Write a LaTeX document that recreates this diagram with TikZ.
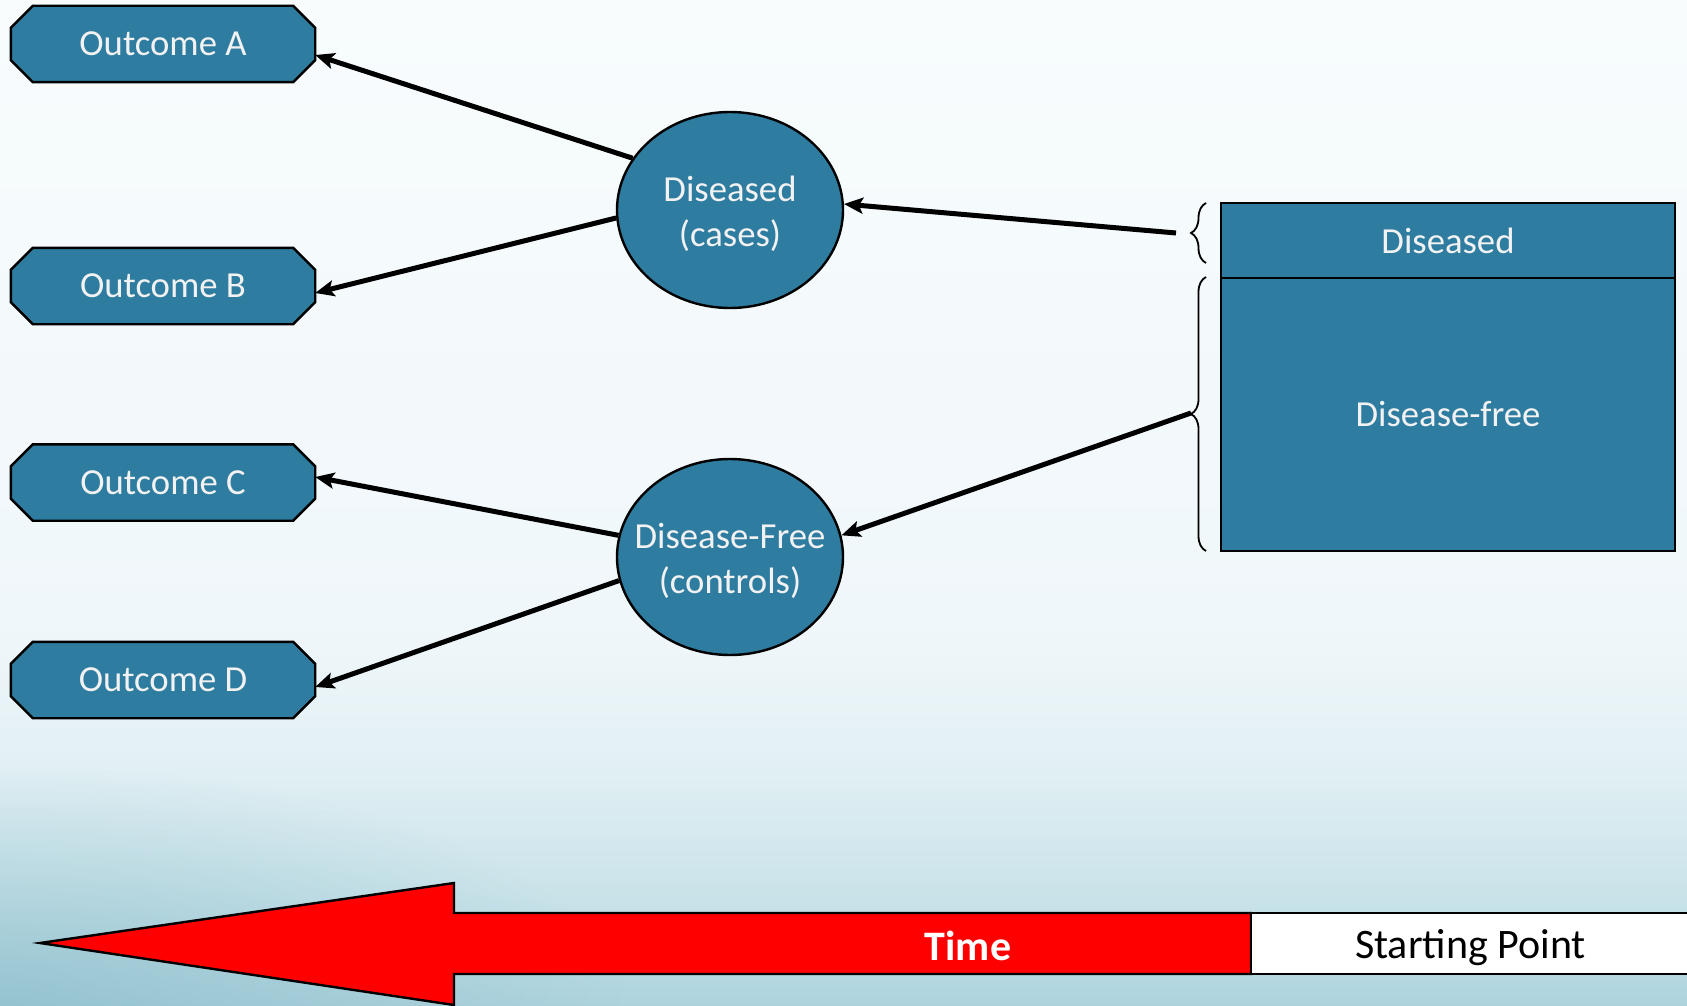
\documentclass[tikz,border=0pt]{standalone}
\usepackage{fontspec}
\setmainfont{Carlito}
\usetikzlibrary{shapes.geometric,arrows.meta,decorations.pathreplacing,calc,fadings}
\pgfdeclarelayer{background}
\pgfsetlayers{background,main}

\definecolor{nodeblue}{HTML}{2E7CA0}
\definecolor{nodetext}{HTML}{F2F2F2}
\definecolor{bgtop}{HTML}{F8FCFD}
\definecolor{bgmid}{HTML}{F0F7FA}
\definecolor{bglow}{HTML}{E2F0F4}
\definecolor{bgdeep}{HTML}{CBE4EA}
\definecolor{bgbot}{HTML}{ADD3DD}
\definecolor{bgcorner}{HTML}{7DB4C4}
\definecolor{arrowred}{HTML}{FF0000}

% the filled path spans 25bp..75bp of the shading
\pgfdeclareverticalshading{backdrop}{100bp}{%
  color(0bp)=(bgbot); color(25bp)=(bgbot); color(31bp)=(bgdeep); color(37bp)=(bglow);
  color(44bp)=(bgmid); color(75bp)=(bgtop); color(100bp)=(bgtop)}
\tikzfading[name=softcorner, inner color=transparent!0, outer color=transparent!100]

\begin{document}
\begin{tikzpicture}[
  x=1pt, y=-1pt,
  labelfont/.style={font=\fontsize{36.7}{44.5}\selectfont},
  outtext/.style={labelfont, text=nodetext, minimum width=304pt, minimum height=76pt, inner sep=0pt},
  octo/.style={fill=nodeblue, draw=black, line width=2.4pt, line join=miter},
  oval/.style={ellipse, draw=black, line width=2.4pt, fill=nodeblue,
    minimum width=226pt, minimum height=196pt, inner sep=0pt},
  ovaltext/.style={labelfont, text=nodetext, align=center, yshift=-4pt},
  group/.style={rectangle, draw=black, line width=2.4pt, fill=nodeblue, text=nodetext,
    minimum width=454pt, inner sep=0pt, labelfont},
  link/.style={line width=5pt, -{Stealth[length=19pt,width=16pt,inset=4pt]}},
  bracket/.style={decorate, decoration={brace, amplitude=15pt}, line width=1.8pt},
  timefont/.style={font=\fontsize{42}{50}\selectfont}
]
\useasboundingbox (0,0) rectangle (1687,1006);

% backdrop
\begin{pgfonlayer}{background}
  \shade[shading=backdrop] (0,0) rectangle (1687,1006);
  \fill[bgcorner, opacity=0.5, path fading=softcorner]
    (0,1006) ellipse [x radius=620, y radius=240];
\end{pgfonlayer}

% outcome labels
\node[outtext] (oa) at (163,44)    {Outcome A};
\node[outtext] (ob) at (163,286)   {Outcome B};
\node[outtext] (oc) at (163,482.5) {Outcome C};
\node[outtext] (od) at (163,680)   {Outcome D};

% octagonal frames behind the outcome labels
\begin{pgfonlayer}{background}
  \foreach \n in {oa,ob,oc,od}
    \filldraw[octo]
      ($(\n.north west)+(22,0)$) -- ($(\n.north east)+(-22,0)$) --
      ($(\n.north east)+(0,22)$) -- ($(\n.south east)+(0,-22)$) --
      ($(\n.south east)+(-22,0)$) -- ($(\n.south west)+(22,0)$) --
      ($(\n.south west)+(0,-22)$) -- ($(\n.north west)+(0,22)$) -- cycle;
\end{pgfonlayer}

% groups
\node[oval, label={[ovaltext]center:{Diseased\\(cases)}}] (dz) at (730,210) {};
\node[oval, label={[ovaltext]center:{Disease-Free\\(controls)}}] (df) at (730,557) {};

% starting population
\node[group, minimum height=75pt]  (pd) at (1448,240.5) {Diseased};
\node[group, minimum height=273pt] (pf) at (1448,414.5) {Disease-free};

% braces
\draw[bracket] (1206,263) -- (1206,203);
\draw[bracket] (1206,551) -- (1206,277);
\coordinate (tipA) at (1176,233);
\coordinate (tipB) at (1191,413);

% connectors
\draw[link] (tipA) -- (dz.3);
\draw[link] (tipB) -- (df.11);
\draw[link] (dz.152) -- ([yshift=-11pt]oa.east);
\draw[link] (dz.184) -- ([yshift=-7pt]ob.east);
\draw[link] (df.169) -- ([yshift=5.5pt]oc.east);
\draw[link] (df.192) -- ([yshift=-7pt]od.east);

% time axis
\filldraw[fill=arrowred, draw=black, line width=2.4pt, line join=miter]
  (40,943) -- (454,883) -- (454,913) -- (1251,913) -- (1251,974) -- (454,974) -- (454,1005) -- cycle;
\node[text=white, font=\fontsize{42}{50}\selectfont\bfseries] (time) at (968,946) {Time};
\node[rectangle, draw=black, line width=2.4pt, fill=white, timefont, text depth=0pt,
  minimum width=439pt, minimum height=61pt, inner sep=0pt] (start) at (1470.5,943.5) {Starting Point};
\end{tikzpicture}
\end{document}
